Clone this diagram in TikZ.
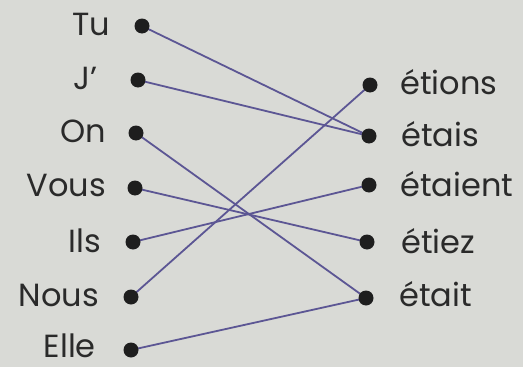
\documentclass[tikz,border=0pt]{standalone}
\usepackage{fontspec}
\setmainfont{Poppins}
\definecolor{bgc}{HTML}{D9DAD6}
\definecolor{dotc}{HTML}{1E1E1E}
\definecolor{txt}{HTML}{2A2A2A}
\definecolor{linec}{HTML}{5C5694}
\begin{document}
\begin{tikzpicture}[x=1pt,y=-1pt,
  dot/.style={circle,fill=dotc,inner sep=0pt,minimum size=15pt},
  lbl/.style={font=\fontsize{32}{32}\selectfont,text=txt,inner sep=0pt,text depth=0pt},
  link/.style={draw=linec,line width=1.8pt}]
\fill[bgc] (0,0) rectangle (523,367);
\useasboundingbox (0,0) rectangle (523,367);
% left labels
\node[lbl,anchor=base east] (tTu) at (110,35) {Tu};
\node[lbl,anchor=base east] (tJ) at (98,89) {J'};
\node[lbl,anchor=base east] (tOn) at (106,142) {On};
\node[lbl,anchor=base east] (tVous) at (106,196) {Vous};
\node[lbl,anchor=base east] (tIls) at (101,252) {Ils};
\node[lbl,anchor=base east] (tNous) at (99,306) {Nous};
\node[lbl,anchor=base east] (tElle) at (96,357) {Elle};
% right labels
\node[lbl,anchor=base west] (rA) at (400,94) {étions};
\node[lbl,anchor=base west] (rB) at (401,146) {étais};
\node[lbl,anchor=base west] (rC) at (400,196) {étaient};
\node[lbl,anchor=base west] (rD) at (401,253) {étiez};
\node[lbl,anchor=base west] (rE) at (399,306) {était};
% dot coordinates
\coordinate (lTu) at (142,26);
\coordinate (lJ) at (138,80);
\coordinate (lOn) at (136,133);
\coordinate (lVous) at (135,188);
\coordinate (lIls) at (133,242);
\coordinate (lNous) at (131,297);
\coordinate (lElle) at (131,350);
\coordinate (pA) at (370,85);
\coordinate (pB) at (369,136);
\coordinate (pC) at (369,185);
\coordinate (pD) at (367,242);
\coordinate (pE) at (366,298);
% links
\draw[link] (lTu) -- (pB);
\draw[link] (lJ) -- (pB);
\draw[link] (lOn) -- (pE);
\draw[link] (lVous) -- (pD);
\draw[link] (lIls) -- (pC);
\draw[link] (lNous) -- (pA);
\draw[link] (lElle) -- (pE);
% dots
\foreach \p in {lTu,lJ,lOn,lVous,lIls,lNous,lElle,pA,pB,pC,pD,pE}
  \node[dot] (d\p) at (\p) {};
\end{tikzpicture}
\end{document}
